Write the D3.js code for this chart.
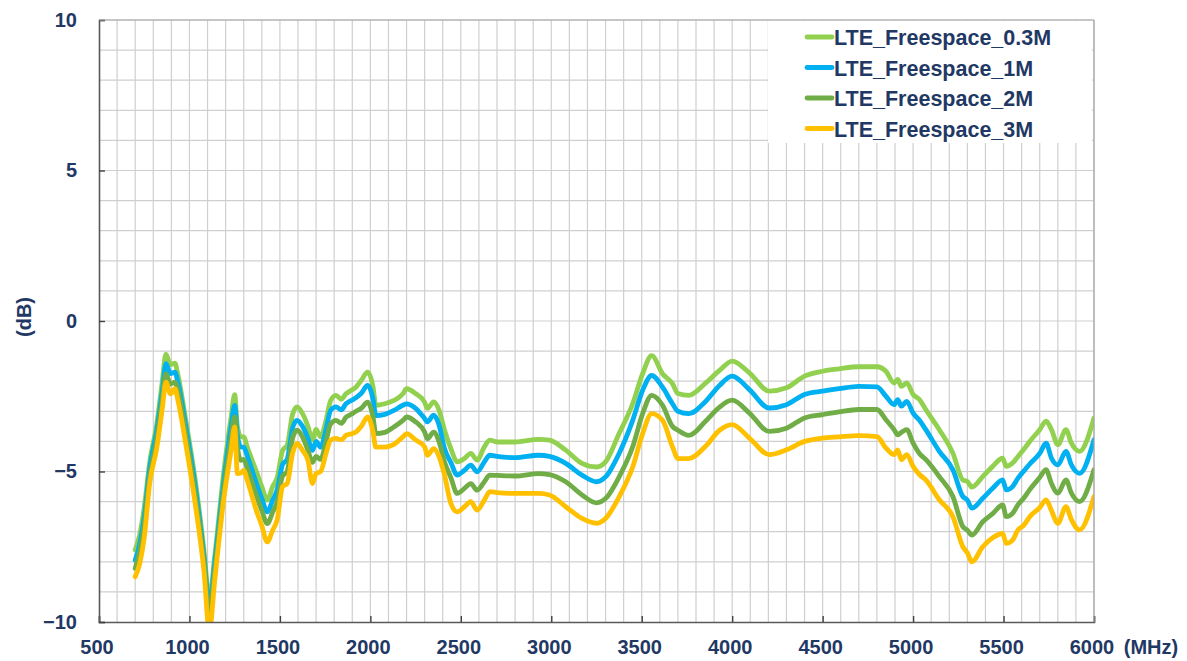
<!DOCTYPE html>
<html>
<head>
<meta charset="utf-8">
<script src="https://cdn.jsdelivr.net/npm/d3@7/dist/d3.min.js"></script>
<style>
  html, body { margin: 0; padding: 0; background: #ffffff; }
  svg { display: block; }
  text { font-family: "Liberation Sans", Arial, sans-serif; font-weight: bold; fill: #1F3864; }
</style>
</head>
<body>
<svg id="chart" width="1187" height="661"></svg>
<script>
// Frequency sweep points (MHz)
const freq = [
  700, 725, 750, 780, 820, 850, 870, 895, 920, 935,
  980, 1030, 1080, 1110, 1140, 1190, 1230, 1250, 1265, 1285,
  1300, 1320, 1370, 1400, 1430, 1460, 1485, 1515, 1540, 1570,
  1595, 1625, 1655, 1680, 1700, 1725, 1755, 1780, 1810, 1840,
  1865, 1895, 1920, 1950, 1985, 2015, 2030, 2080, 2130, 2180,
  2200, 2250, 2300, 2315, 2350, 2380, 2410, 2445, 2480, 2520,
  2555, 2590, 2630, 2660, 2700, 2800, 2930, 2990, 3080, 3170,
  3250, 3300, 3375, 3450, 3505, 3555, 3615, 3670, 3700, 3760,
  3850, 3930, 4000, 4095, 4205, 4300, 4400, 4500, 4590, 4700,
  4800, 4850, 4895, 4915, 4935, 4965, 5000, 5035, 5070, 5145,
  5220, 5275, 5300, 5325, 5385, 5440, 5495, 5515, 5550, 5580,
  5610, 5645, 5700, 5735, 5765, 5800, 5845, 5875, 5920, 6000
];

// Measured response (dB) per distance
const lte03 = [
  -7.6, -7.1, -6.2, -4.7, -3.4, -2.0, -1.1, -1.45, -1.4, -1.75,
  -3.3, -5.2, -7.6, -9.25, -7.8, -5.0, -3.2, -2.45, -3.5, -3.85,
  -3.85, -4.2, -5.0, -5.5, -5.95, -5.5, -5.2, -4.3, -4.13, -3.1,
  -2.85, -3.08, -3.5, -3.95, -3.6, -3.85, -3.3, -2.65, -2.47, -2.6,
  -2.42, -2.3, -2.2, -1.97, -1.7, -2.2, -2.8, -2.75, -2.64, -2.42,
  -2.25, -2.41, -2.7, -2.9, -2.69, -2.97, -3.63, -4.24, -4.68, -4.57,
  -4.4, -4.62, -4.18, -3.96, -4.02, -4.02, -3.93, -3.96, -4.29, -4.73,
  -4.85, -4.68, -3.74, -2.75, -1.75, -1.15, -1.75, -2.08, -2.41, -2.47,
  -2.08, -1.64, -1.33, -1.72, -2.33, -2.22, -1.83, -1.67, -1.59, -1.52,
  -1.52, -1.67, -2.06, -1.94, -2.17, -2.06, -2.44, -2.61, -2.94, -3.61,
  -4.39, -5.28, -5.33, -5.52, -5.17, -4.83, -4.56, -4.83, -4.72, -4.5,
  -4.28, -4.0, -3.61, -3.33, -3.61, -4.11, -3.61, -4.06, -4.33, -3.22
];
const lte1 = [
  -7.95, -7.4, -6.5, -4.9, -3.6, -2.3, -1.42, -1.75, -1.7, -2.0,
  -3.5, -5.4, -7.8, -9.45, -8.0, -5.3, -3.5, -2.8, -3.8, -4.19,
  -4.19, -4.5, -5.4, -5.9, -6.34, -5.95, -5.6, -4.76, -4.6, -3.55,
  -3.3, -3.5, -3.9, -4.3, -4.0, -4.19, -3.6, -2.97, -2.85, -2.95,
  -2.75, -2.64, -2.55, -2.4, -2.14, -2.6, -3.14, -3.1, -2.97, -2.8,
  -2.75, -2.9, -3.24, -3.35, -3.13, -3.46, -4.24, -4.7, -5.12, -4.96,
  -4.79, -5.01, -4.68, -4.46, -4.5, -4.54, -4.46, -4.5, -4.73, -5.12,
  -5.34, -5.18, -4.4, -3.3, -2.3, -1.81, -2.2, -2.75, -3.0, -3.08,
  -2.69, -2.14, -1.83, -2.28, -2.89, -2.78, -2.44, -2.33, -2.25, -2.17,
  -2.19, -2.5, -2.78, -2.61, -2.83, -2.67, -3.06, -3.3, -3.61, -4.33,
  -4.94, -5.83, -5.95, -6.22, -5.89, -5.56, -5.28, -5.61, -5.5, -5.22,
  -5.0, -4.75, -4.4, -4.06, -4.56, -4.78, -4.33, -4.78, -5.06, -3.94
];
const lte2 = [
  -8.22, -7.65, -6.8, -5.2, -3.9, -2.6, -1.75, -2.1, -2.03, -2.3,
  -3.8, -5.7, -8.0, -9.7, -8.3, -5.6, -3.9, -3.19, -4.2, -4.63,
  -4.6, -4.9, -5.8, -6.3, -6.73, -6.35, -6.0, -5.15, -5.0, -3.9,
  -3.63, -3.85, -4.3, -4.7, -4.5, -4.6, -4.0, -3.42, -3.3, -3.4,
  -3.2, -3.1, -3.0, -2.9, -2.7, -3.2, -3.74, -3.7, -3.52, -3.3,
  -3.19, -3.35, -3.69, -3.91, -3.69, -4.02, -4.68, -5.2, -5.73, -5.56,
  -5.4, -5.62, -5.34, -5.12, -5.13, -5.15, -5.07, -5.1, -5.34, -5.78,
  -6.04, -5.9, -5.18, -4.18, -3.08, -2.47, -2.8, -3.5, -3.63, -3.8,
  -3.35, -2.86, -2.63, -3.06, -3.67, -3.56, -3.22, -3.11, -3.02, -2.94,
  -2.94, -3.28, -3.61, -3.78, -3.7, -3.61, -4.06, -4.4, -4.6, -5.17,
  -5.83, -6.83, -6.95, -7.11, -6.67, -6.4, -6.11, -6.5, -6.39, -6.1,
  -5.9, -5.6, -5.2, -4.94, -5.4, -5.72, -5.28, -5.72, -6.0, -4.94
];
const lte3 = [
  -8.5, -8.06, -7.2, -5.4, -4.2, -2.9, -2.03, -2.42, -2.25, -2.6,
  -4.1, -6.0, -8.3, -10.3, -8.6, -5.9, -4.3, -3.52, -5.07, -5.05,
  -4.96, -5.3, -6.3, -6.8, -7.34, -6.95, -6.6, -5.5, -5.4, -4.4,
  -4.07, -4.3, -4.63, -5.4, -5.07, -5.0, -4.4, -3.96, -3.9, -3.95,
  -3.8, -3.75, -3.69, -3.5, -3.19, -3.7, -4.19, -4.19, -4.1, -3.85,
  -3.74, -3.95, -4.18, -4.46, -4.24, -4.51, -5.12, -6.06, -6.34, -6.17,
  -6.0, -6.28, -5.95, -5.67, -5.7, -5.73, -5.73, -5.78, -6.17, -6.56,
  -6.72, -6.56, -5.84, -4.85, -3.74, -3.08, -3.3, -4.18, -4.57, -4.57,
  -4.18, -3.63, -3.44, -3.89, -4.44, -4.28, -4.0, -3.89, -3.85, -3.81,
  -3.84, -4.22, -4.44, -4.28, -4.61, -4.44, -4.83, -5.1, -5.28, -5.94,
  -6.5, -7.5, -7.7, -8.0, -7.5, -7.2, -7.06, -7.39, -7.28, -6.94,
  -6.8, -6.5, -6.2, -5.94, -6.3, -6.72, -6.17, -6.6, -6.94, -5.83
];

const seriesNames = ["LTE_Freespace_0.3M", "LTE_Freespace_1M", "LTE_Freespace_2M", "LTE_Freespace_3M"];
const seriesColors = ["#92D050", "#00B0F0", "#70AD47", "#FFC000"];
const seriesValues = [lte03, lte1, lte2, lte3];

const xTicks = [500, 1000, 1500, 2000, 2500, 3000, 3500, 4000, 4500, 5000, 5500, 6000];
const yTicks = [-10, -5, 0, 5, 10];
const xUnit = "(MHz)";
const yUnit = "(dB)";

// Layout
const plot = { left: 99, right: 1094, top: 20, bottom: 622 };
const tickFont = 20;
const svg = d3.select("#chart");

const x = d3.scaleLinear().domain([500, 6000]).range([plot.left, plot.right]);
const y = d3.scaleLinear().domain([-10, 10]).range([plot.bottom, plot.top]);

// Minor grid: every 100 MHz and every 1 dB
const grid = svg.append("g").attr("class", "grid");
grid.selectAll("line.v")
  .data(d3.range(600, 6001, 100))
  .join("line")
  .attr("x1", d => x(d)).attr("x2", d => x(d))
  .attr("y1", plot.top).attr("y2", plot.bottom)
  .attr("stroke", "#cfcfcf").attr("stroke-width", 1.2);
grid.selectAll("line.h")
  .data(d3.range(-9, 11, 1))
  .join("line")
  .attr("x1", plot.left).attr("x2", plot.right)
  .attr("y1", d => y(d)).attr("y2", d => y(d))
  .attr("stroke", "#cfcfcf").attr("stroke-width", 1.2);

// Clip series to the plotting area
svg.append("clipPath").attr("id", "plotClip")
  .append("rect")
  .attr("x", plot.left).attr("y", plot.top)
  .attr("width", plot.right - plot.left).attr("height", plot.bottom - plot.top);

const line = d3.line()
  .x((d, i) => x(freq[i]))
  .y(d => y(d))
  .curve(d3.curveMonotoneX);

svg.append("g").attr("clip-path", "url(#plotClip)")
  .selectAll("path")
  .data(seriesValues)
  .join("path")
  .attr("d", d => line(d))
  .attr("fill", "none")
  .attr("stroke", (d, i) => seriesColors[i])
  .attr("stroke-width", 4.8)
  .attr("stroke-linejoin", "round")
  .attr("stroke-linecap", "round");

// Axes
const xAxis = d3.axisBottom(x).tickValues(xTicks).tickSize(-6).tickPadding(18).tickFormat(d3.format("d"));
const gx = svg.append("g").attr("transform", `translate(0,${plot.bottom})`).call(xAxis);
gx.select(".domain").attr("stroke", "#595959").attr("stroke-width", 1.6);
gx.selectAll(".tick line").attr("stroke", "#404040").attr("stroke-width", 1.4);
gx.selectAll(".tick text")
  .attr("x", -2.5)
  .attr("font-size", tickFont).attr("fill", "#1F3864")
  .attr("font-family", "Liberation Sans, Arial, sans-serif").attr("font-weight", "bold");

const yAxis = d3.axisLeft(y).tickValues(yTicks).tickSize(-6).tickPadding(22).tickFormat(d3.format("d"));
const gy = svg.append("g").attr("transform", `translate(${plot.left},0)`).call(yAxis);
gy.select(".domain").attr("stroke", "#595959").attr("stroke-width", 1.6);
gy.selectAll(".tick line").attr("stroke", "#404040").attr("stroke-width", 1.4);
gy.selectAll(".tick text")
  .attr("font-size", tickFont).attr("fill", "#1F3864")
  .attr("font-family", "Liberation Sans, Arial, sans-serif").attr("font-weight", "bold");

// Top and right frame
svg.append("line").attr("x1", plot.left).attr("x2", plot.right).attr("y1", plot.top).attr("y2", plot.top)
  .attr("stroke", "#a6a6a6").attr("stroke-width", 1.2);
svg.append("line").attr("x1", plot.right).attr("x2", plot.right).attr("y1", plot.top).attr("y2", plot.bottom)
  .attr("stroke", "#a6a6a6").attr("stroke-width", 1.2);

// Axis unit labels
svg.append("text").attr("x", 1151).attr("y", 654).attr("text-anchor", "middle")
  .attr("font-size", tickFont).text(xUnit);
svg.append("text").attr("transform", "translate(31,317) rotate(-90)").attr("text-anchor", "middle")
  .attr("font-size", tickFont).text(yUnit);

// Legend
const legend = svg.append("g");
legend.append("rect").attr("x", 768).attr("y", 21).attr("width", 324).attr("height", 122).attr("fill", "#ffffff");
const rows = legend.selectAll("g.item").data(seriesNames).join("g")
  .attr("transform", (d, i) => `translate(807,${37 + i * 30.5})`);
rows.append("line").attr("x1", 0).attr("x2", 25).attr("y1", 0).attr("y2", 0)
  .attr("stroke", (d, i) => seriesColors[i]).attr("stroke-width", 4.8).attr("stroke-linecap", "round");
rows.append("text").attr("x", 27).attr("y", 8).attr("font-size", 21.5).text(d => d);
</script>
</body>
